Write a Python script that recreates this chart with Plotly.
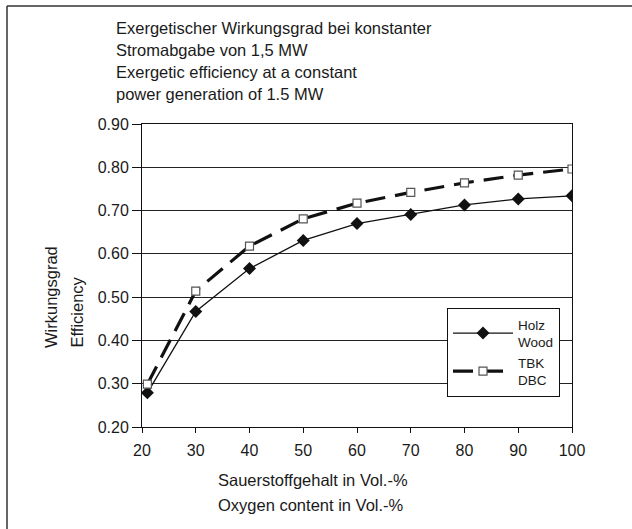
import plotly.graph_objects as go

# Data
oxygen = [21, 30, 40, 50, 60, 70, 80, 90, 100]
wood = [0.279, 0.467, 0.566, 0.631, 0.670, 0.691, 0.713, 0.727, 0.734]
dbc = [0.299, 0.514, 0.618, 0.681, 0.717, 0.742, 0.764, 0.782, 0.796]
series_names = ["Holz<br>Wood", "TBK<br>DBC"]
title_lines = [
    "Exergetischer Wirkungsgrad bei konstanter",
    "Stromabgabe von 1,5 MW",
    "Exergetic efficiency at a constant",
    "power generation of 1.5 MW",
]
xtitle_lines = ["Sauerstoffgehalt in Vol.-%", "Oxygen content in Vol.-%"]
ytitle_lines = ["Wirkungsgrad", "Efficiency"]

W, H = 632, 529
L, R, T, B = 142, 60, 124, 102
PW, PH = W - L - R, H - T - B

def px(x):
    return (x - L) / PW

def py(y):
    return (H - B - y) / PH

FONT = "Liberation Sans, Arial, sans-serif"
TXT = "#1a1a1a"

fig = go.Figure()
fig.add_trace(go.Scatter(
    x=oxygen, y=wood, name=series_names[0], mode="lines+markers",
    line=dict(color="#111", width=1.3),
    marker=dict(symbol="diamond", size=10, color="#111"),
))
fig.add_trace(go.Scatter(
    x=oxygen, y=dbc, name=series_names[1], mode="lines+markers",
    line=dict(color="#111", width=3.2, dash="20px,10px"),
    marker=dict(symbol="square", size=8, color="white",
                line=dict(color="#555", width=1.2)),
))

annotations = []
for i, t in enumerate(title_lines):
    annotations.append(dict(
        text=t, xref="paper", yref="paper", x=px(114), y=py(28 + 22 * i),
        xanchor="left", yanchor="middle", showarrow=False,
        font=dict(family=FONT, size=16.5, color=TXT)))
for i, t in enumerate(xtitle_lines):
    annotations.append(dict(
        text=t, xref="paper", yref="paper", x=px(216), y=py(480 + 25 * i),
        xanchor="left", yanchor="middle", showarrow=False,
        font=dict(family=FONT, size=16.5, color=TXT)))
for i, t in enumerate(ytitle_lines):
    annotations.append(dict(
        text=t, xref="paper", yref="paper", x=px(51 + 25 * i), y=py(350),
        xanchor="center", yanchor="bottom", textangle=-90, showarrow=False,
        font=dict(family=FONT, size=16.5, color=TXT)))

fig.update_layout(
    width=W, height=H,
    margin=dict(l=L, r=R, t=T, b=B),
    paper_bgcolor="white", plot_bgcolor="white",
    font=dict(family=FONT, size=16, color=TXT),
    showlegend=True,
    legend=dict(
        x=px(447), y=py(308), xanchor="left", yanchor="top",
        bordercolor="#111", borderwidth=1, bgcolor="white",
        font=dict(family=FONT, size=13.5, color=TXT),
        itemwidth=60, tracegroupgap=0,
    ),
    annotations=annotations,
    shapes=[
        dict(type="line", xref="paper", yref="paper",
             x0=px(7), x1=px(7), y0=py(6), y1=py(540),
             line=dict(color="#333", width=1.5)),
        dict(type="line", xref="paper", yref="paper",
             x0=px(7), x1=px(640), y0=py(6), y1=py(6),
             line=dict(color="#333", width=1.5)),
    ],
)
fig.update_xaxes(
    range=[20, 100], dtick=10, tick0=20, showgrid=False, zeroline=False,
    showline=True, linecolor="#111", linewidth=1, mirror=True,
    ticks="outside", ticklen=5, tickcolor="#111", ticklabelstandoff=4,
    tickfont=dict(family=FONT, size=16, color=TXT),
)
fig.update_yaxes(
    range=[0.2, 0.9], dtick=0.1, tick0=0.2, tickformat=".2f",
    showgrid=True, gridcolor="#222", gridwidth=1, zeroline=False,
    showline=True, linecolor="#111", linewidth=1, mirror=True,
    ticks="outside", ticklen=9, tickcolor="#111",
    tickfont=dict(family=FONT, size=16, color=TXT),
)

fig.write_html("out.html", config={"displayModeBar": False},
               post_script="document.body.style.margin='0px';")
